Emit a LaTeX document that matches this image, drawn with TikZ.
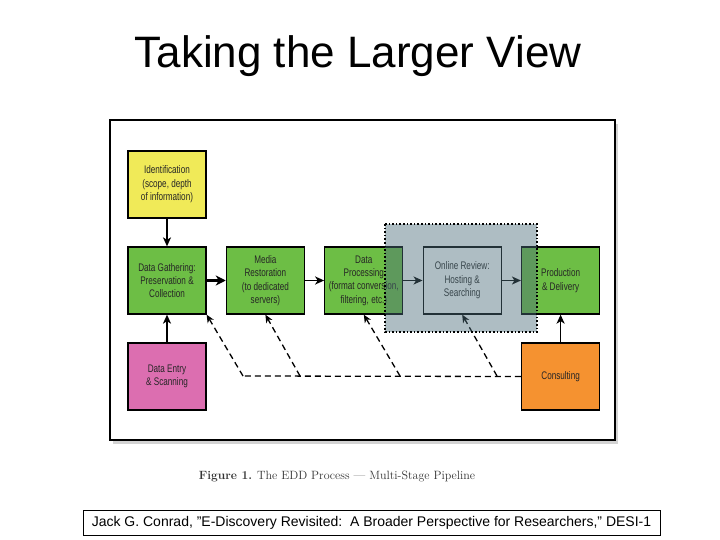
\documentclass[tikz,border=0pt]{standalone}
\usepackage{fontspec}
\setsansfont{Liberation Sans}
\newfontfamily\boxfont{Liberation Sans}[FakeStretch=0.74]
\usetikzlibrary{shapes.geometric, arrows.meta, shadows}
\definecolor{idyellow}{RGB}{240,234,88}
\definecolor{stagegreen}{RGB}{109,190,69}
\definecolor{entrypink}{RGB}{220,110,176}
\definecolor{consultorange}{RGB}{245,146,48}
\definecolor{reviewslate}{RGB}{77,109,122}
\tikzstyle{stage} = [rectangle, minimum width=78pt, minimum height=67pt, inner sep=1pt, align=center, text=black!85, draw=black, line width=1.3pt, fill=stagegreen, font=\boxfont\fontsize{11}{13.4}\selectfont]
\tikzstyle{arrow} = [line width=1.6pt,->,>={Stealth[length=9pt,width=8pt,inset=2.5pt]}]
\tikzstyle{bigarrow} = [line width=2.8pt,->,>={Stealth[length=10pt,width=10pt,inset=3pt]}]
\tikzstyle{dasharrow} = [line width=1.3pt,dash pattern=on 6pt off 4pt,->,>={Stealth[length=8pt,width=7pt,inset=2.5pt]}]
\begin{document}
\begin{tikzpicture}[x=1pt, y=-1pt, node distance=96pt]
    \useasboundingbox (0,0) rectangle (720,540);

    % title
    \node (title) [anchor=base, font=\sffamily\fontsize{44}{44}\selectfont] at (358,68) {Taking the Larger View};

    % figure frame
    \filldraw [fill=white, draw=black, line width=1.8pt, drop shadow={shadow xshift=3pt, shadow yshift=-4pt, opacity=0.35}] (110,120) rectangle (615,440);

    \node (gather) [stage] at (167,280.5) {Data Gathering:\\Preservation \&\\Collection};
    \node (ident) [stage, fill=idyellow, above of=gather] {Identification\\(scope, depth\\of information)};
    \node (entry) [stage, fill=entrypink, below of=gather] {Data Entry\\\& Scanning};
    \node (media) [stage, node distance=98.4pt, right of=gather] {Media\\Restoration\\(to dedicated\\servers)};
    \node (proc) [stage, node distance=98.4pt, right of=media] {Data\\Processing\\(format conversion,\\filtering, etc.)};
    \node (review) [stage, fill=white, node distance=98.4pt, right of=proc] {Online Review:\\Hosting \&\\Searching};
    \node (prod) [stage, node distance=98.4pt, right of=review] {Production\\\& Delivery};
    \node (consult) [stage, fill=consultorange, below of=prod] {Consulting};

    \draw [arrow] (ident) -- (gather);
    \draw [arrow] (entry) -- (gather);
    \draw [bigarrow] (gather) -- (media);
    \draw [arrow] (media) -- (proc);
    \draw [arrow] (proc) -- (review);
    \draw [arrow] (review) -- (prod);
    \draw [arrow] (consult) -- (prod);

    % consulting feeds every stage
    \coordinate (j1) at (243,376);
    \coordinate (j2) at (300,376);
    \coordinate (j3) at (400,376);
    \coordinate (j4) at (497,376);
    \draw [line width=1.3pt, dash pattern=on 6pt off 4pt] (consult.west) -- (j1);
    \draw [dasharrow] (j1) -- (gather.south east);
    \draw [dasharrow] (j2) -- (media.south);
    \draw [dasharrow] (j3) -- (proc.south);
    \draw [dasharrow] (j4) -- (review.south);

    % hosted part of the pipeline
    \fill [reviewslate, opacity=0.45] (385,224) rectangle (537,332);
    \draw [line width=1.6pt, dotted] (385,224) rectangle (537,332);

    \node (caption) [font=\fontsize{12}{12}\selectfont, text=black!80] at (337,477) {\textbf{Figure 1.} The EDD Process --- Multi-Stage Pipeline};

    \node (cite) [draw=black, thin, minimum width=577pt, minimum height=25pt, font=\sffamily\fontsize{14}{14}\selectfont] at (371.5,522.5) {Jack G. Conrad, "E-Discovery Revisited:\ \ A Broader Perspective for Researchers," DESI-1};
\end{tikzpicture}
\end{document}
